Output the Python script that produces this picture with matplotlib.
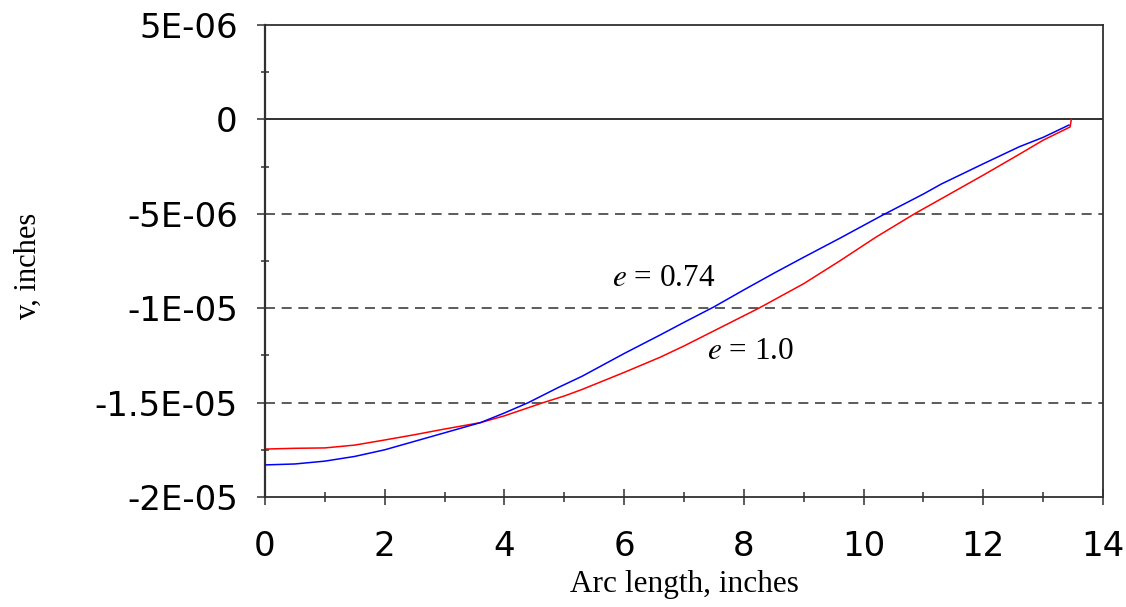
import matplotlib.pyplot as plt
import numpy as np

# deflection along the arc, micro-inches
arc_074 = [0, 0.5, 1.0, 1.5, 2.0, 2.5, 3.0, 3.6, 4.0, 4.4, 4.9, 5.3, 6.0, 6.6,
           7.0, 7.5, 8.0, 8.5, 9.0, 9.6, 10.3, 11.0, 11.3, 12.0, 12.6, 13.0, 13.43]
v_074 = [-18.3, -18.25, -18.1, -17.85, -17.5, -17.05, -16.6, -16.06, -15.55,
         -15.0, -14.2, -13.6, -12.4, -11.42, -10.75, -9.93, -9.03, -8.15, -7.3,
         -6.3, -5.1, -3.95, -3.42, -2.35, -1.45, -0.95, -0.3]

arc_100 = [0, 0.5, 1.0, 1.5, 2.0, 2.5, 3.0, 3.6, 4.0, 4.65, 5.0, 5.3, 6.0, 6.6,
           7.0, 7.5, 8.0, 8.25, 9.0, 9.6, 10.2, 10.85, 11.3, 12.0, 12.6, 13.0,
           13.45, 13.47]
v_100 = [-17.46, -17.42, -17.4, -17.25, -16.98, -16.7, -16.4, -16.06, -15.7,
         -15.0, -14.65, -14.3, -13.4, -12.6, -12.0, -11.2, -10.4, -10.0,
         -8.7, -7.5, -6.25, -5.0, -4.2, -2.95, -1.85, -1.1, -0.4, 0.0]

y_ticks = [5e-6, 0, -5e-6, -1e-5, -1.5e-5, -2e-5]
y_tick_labels = ["5E-06", "0", "-5E-06", "-1E-05", "-1.5E-05", "-2E-05"]
x_ticks = [0, 2, 4, 6, 8, 10, 12, 14]
grid_levels = [-5e-6, -1e-5, -1.5e-5]

plt.rcParams['mathtext.fontset'] = 'stix'
serif = 'Liberation Serif'

fig = plt.figure(figsize=(11.26, 6.07), dpi=100)
ax = fig.add_axes([0.2353, 0.1812, 0.7443, 0.7776])

for lvl in grid_levels:
    ax.axhline(lvl, color='#404040', lw=1.2, dashes=(6, 4), zorder=1)
ax.axhline(0, color='#202020', lw=1.3, zorder=1)

ax.plot(arc_074, np.array(v_074) * 1e-6, color='#0000ff', lw=1.1, zorder=3)
ax.plot(arc_100, np.array(v_100) * 1e-6, color='#ff0000', lw=1.1, zorder=2)

ax.text(5.80, -8.45e-6, r'$e$ = 0.74', fontsize=22.5, family=serif, va='center')
ax.text(7.38, -12.3e-6, r'$e$ = 1.0', fontsize=22.5, family=serif, va='center')

ax.set_xlim(0, 14)
ax.set_ylim(-2e-5, 5e-6)
ax.set_xticks(x_ticks)
ax.set_xticks(np.arange(1, 14, 2), minor=True)
ax.set_yticks(y_ticks)
ax.set_yticklabels(y_tick_labels)
ax.set_yticks(np.arange(-1.75e-5, 5e-6, 5e-6), minor=True)

ax.tick_params(axis='y', which='major', direction='out', length=5.5, width=1.1,
               color='#303030', labelsize=24.5, pad=14)
ax.tick_params(axis='y', which='minor', direction='inout', length=6, width=1.1,
               color='#303030')
ax.tick_params(axis='x', which='major', direction='inout', length=11, width=1.1,
               color='#303030', labelsize=24.5, pad=18)
ax.tick_params(axis='x', which='minor', direction='inout', length=7, width=1.1,
               color='#303030')

for side in ['left', 'bottom', 'right', 'top']:
    ax.spines[side].set_color('#303030')
    ax.spines[side].set_linewidth(1.3)
ax.spines['left'].set_linewidth(1.6)

ax.set_xlabel('Arc length, inches', fontsize=22.5, family=serif, labelpad=5)
ax.set_ylabel('v, inches', fontsize=22, family=serif)
ax.yaxis.set_label_coords(-0.265, 0.49)

fig.savefig('out.png', dpi=100)
